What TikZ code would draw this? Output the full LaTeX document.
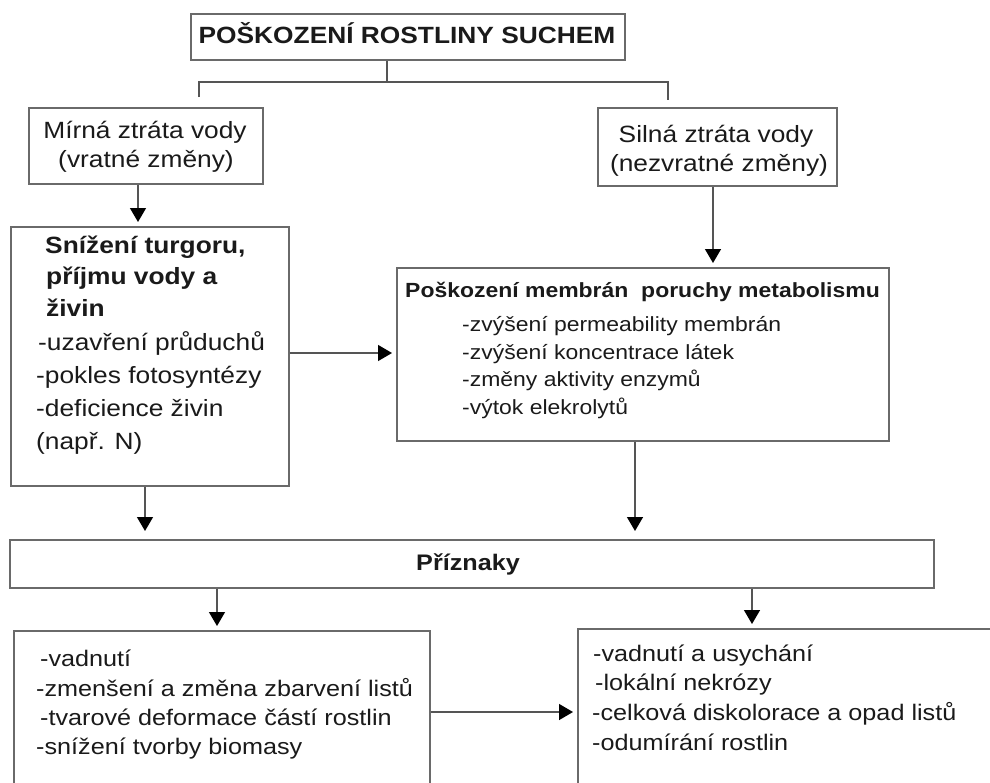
\documentclass[tikz,border=0pt]{standalone}
\usepackage{fontspec}
\setmainfont{Liberation Sans}[FakeStretch=1.12]
\usetikzlibrary{arrows.meta}
\definecolor{linegray}{HTML}{555555}
\definecolor{boxgray}{HTML}{6A6A6A}
\definecolor{txtc}{HTML}{1A1A1A}
\begin{document}
\begin{tikzpicture}[x=1pt,y=-1pt,
  box/.style={draw=boxgray, line width=1.6pt, inner sep=0, anchor=north west},
  conn/.style={draw=linegray, line width=1.4pt},
  arr/.style={conn, -{Triangle[width=16pt,length=14pt,color=black]}, shorten >=4pt},
  tn/.style={anchor=base west, inner sep=0, text=txtc, font=\fontsize{23.5}{28}\selectfont},
  tnb/.style={tn, font=\fontsize{23.5}{28}\selectfont\bfseries},
  tc/.style={tn, anchor=base},
  tcb/.style={tnb, anchor=base},
  ts/.style={tn, font=\fontsize{20.5}{24}\selectfont},
  tsb/.style={tn, font=\fontsize{20.5}{24}\selectfont\bfseries},
  tm/.style={tn, font=\fontsize{22.5}{27}\selectfont},
  tmb/.style={tn, font=\fontsize{22.5}{27}\selectfont\bfseries}
]
\useasboundingbox (0,0) rectangle (990,782);
\clip (0,0) rectangle (990,782);

% boxes
\node[box, minimum width=434, minimum height=46] (title) at (190,13) {};
\node[box, minimum width=234, minimum height=76] (mirna) at (28,107) {};
\node[box, minimum width=239, minimum height=78] (silna) at (597,107) {};
\node[box, minimum width=278, minimum height=259] (sniz) at (10,226) {};
\node[box, minimum width=492, minimum height=173] (posk) at (396,267) {};
\node[box, minimum width=924, minimum height=48] (prizn) at (9,539) {};
\node[box, minimum width=416, minimum height=190] (bl) at (13,630) {};
\node[box, minimum width=440, minimum height=190] (br) at (577,628) {};

% texts
\node[tcb] (tt) at (407,43) {POŠKOZENÍ ROSTLINY SUCHEM};
\node[tc] (m1) at (145,138) {Mírná ztráta vody};
\node[tc] (m2) at (146,167) {(vratné změny)};
\node[tc] (s1) at (716,142) {Silná ztráta vody};
\node[tc] (s2) at (719,171) {(nezvratné změny)};

\node[tnb] (n1) at (45,253) {Snížení turgoru,};
\node[tnb] (n2) at (46,284) {příjmu vody a};
\node[tnb] (n3) at (46,316) {živin};
\node[tn] (n4) at (38,350) {-uzavření průduchů};
\node[tn] (n5) at (36,383) {-pokles fotosyntézy};
\node[tn] (n6) at (36,416) {-deficience živin};
\node[tn] (n7) at (36,449) {(např. N)};

\node[tsb] (p0) at (405,297) {Poškození membrán\ \ poruchy metabolismu};
\node[ts] (p1) at (462,331) {-zvýšení permeability membrán};
\node[ts] (p2) at (462,359) {-zvýšení koncentrace látek};
\node[ts] (p3) at (462,386) {-změny aktivity enzymů};
\node[ts] (p4) at (462,414) {-výtok elekrolytů};

\node[tmb] (pz) at (416,570) {Příznaky};

\node[tm] (b1) at (40,666) {-vadnutí};
\node[tm] (b2) at (36,696) {-zmenšení a změna zbarvení listů};
\node[tm] (b3) at (40,725) {-tvarové deformace částí rostlin};
\node[tm] (b4) at (36,754) {-snížení tvorby biomasy};

\node[tm] (r1) at (593,661) {-vadnutí a usychání};
\node[tm] (r2) at (595,690) {-lokální nekrózy};
\node[tm] (r3) at (592,720) {-celková diskolorace a opad listů};
\node[tm] (r4) at (592,750) {-odumírání rostlin};

% connector coordinates
\coordinate (split) at (387,82);
\coordinate (cl) at (199,97);
\coordinate (cr) at (668,100);
\coordinate (x1) at (138,0);
\coordinate (x2) at (713,0);
\coordinate (y3) at (0,353);
\coordinate (x4) at (145,0);
\coordinate (x5) at (635,0);
\coordinate (x6) at (217,0);
\coordinate (x7) at (752,0);
\coordinate (y8) at (0,712);

% connectors
\draw[conn] (title.south -| split) -- (split);
\draw[conn] (cl) |- (split) -| (cr);
\draw[arr] (mirna.south -| x1) -- (sniz.north -| x1);
\draw[arr] (silna.south -| x2) -- (posk.north -| x2);
\draw[arr] (sniz.east |- y3) -- (posk.west |- y3);
\draw[arr, shorten >=8pt] (sniz.south -| x4) -- (prizn.north -| x4);
\draw[arr, shorten >=8pt] (posk.south -| x5) -- (prizn.north -| x5);
\draw[arr] (prizn.south -| x6) -- (bl.north -| x6);
\draw[arr] (prizn.south -| x7) -- (br.north -| x7);
\draw[arr] (bl.east |- y8) -- (br.west |- y8);
\end{tikzpicture}
\end{document}
